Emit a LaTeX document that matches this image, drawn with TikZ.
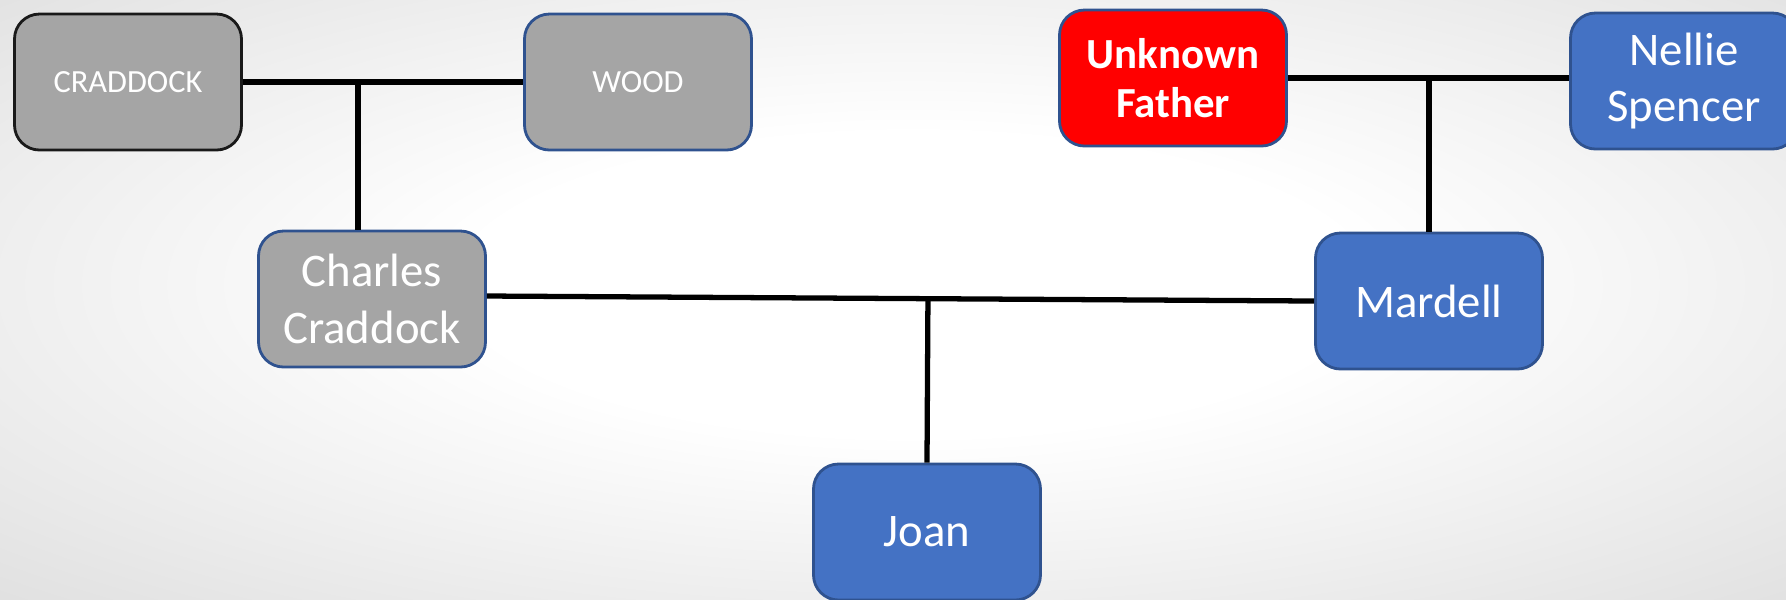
\documentclass[tikz,border=0pt]{standalone}
\usepackage{fontspec}
\setmainfont{Carlito}
\usepackage{tikz}
\usetikzlibrary{calc}
\definecolor{boxblue}{HTML}{4472C4}
\definecolor{boxedge}{HTML}{2F528F}
\definecolor{boxgray}{HTML}{A5A5A5}
\definecolor{boxred}{HTML}{FF0000}
\pgfdeclareradialshading{backshade}{\pgfpoint{0bp}{0bp}}{color(0bp)=(white); color(12bp)=(white); color(45bp)=(black!17); color(65bp)=(black!23); color(100bp)=(black!23)}

\begin{document}
\begin{tikzpicture}
  %%Create a style for the boxes and the family lines
  \tikzset{family line/.style={draw,line width=1.5pt,color=black}}
  \tikzset{person box/.style={draw=boxedge,line width=0.8pt,rounded corners=0.25cm,minimum width=2.27cm,minimum height=1.36cm,text=white,align=center,inner sep=2pt,font=\fontsize{13.3}{16.2}\selectfont}}
  \tikzset{gray box/.style={person box,fill=boxgray}}
  \tikzset{blue box/.style={person box,fill=boxblue}}
  %%Background
  \clip (0,0) rectangle (17.86,-5.99);
  \path[shading=backshade] (-0.2,0.3) rectangle (18.46,-5.99);
  %%Create the different coordinates to place the boxes
  \path (1.28,-0.82) coordinate (cr) (6.38,-0.82) coordinate (wo) (3.72,-2.99) coordinate (ch);
  \path (11.73,-0.78) coordinate (uf) (16.84,-0.81) coordinate (ns);
  \path (14.29,-3.01) coordinate (md) (9.27,-5.32) coordinate (jo);
  %%Place the boxes
  \node[gray box,draw=black!90,font=\fontsize{9.2}{11}\selectfont] (craddock) at (cr) {CRADDOCK};
  \node[gray box,font=\fontsize{9.2}{11}\selectfont] (wood) at (wo) {WOOD};
  \node[gray box] (charles) at (ch) {Charles\\Craddock};
  \node[person box,fill=boxred,font=\bfseries\fontsize{12.2}{14}\selectfont] (unknown) at (uf) {Unknown\\Father};
  \foreach \pt/\name/\txt in {ns/nellie/{Nellie\\Spencer},md/mardell/Mardell,jo/joan/Joan}{
    \node[blue box] (\name) at (\pt) {\txt};
  }
  %%Marriage lines
  \path[family line] (craddock.east) -- (wood.west);
  \path[family line] (unknown.east) -- (unknown.east -| nellie.west);
  \path[family line] ([yshift=0.03cm]charles.east) -- (mardell.west);
  %%Lines down to the children
  \path (3.58,-0.82) coordinate (m1);
  \path[family line] (m1) -- (m1 |- charles.north);
  \path[family line] (mardell.north) -- (mardell.north |- unknown.east);
  \path[family line] ($([yshift=0.03cm]charles.east)!(joan.north)!(mardell.west)$) -- (joan.north);
\end{tikzpicture}
\end{document}
